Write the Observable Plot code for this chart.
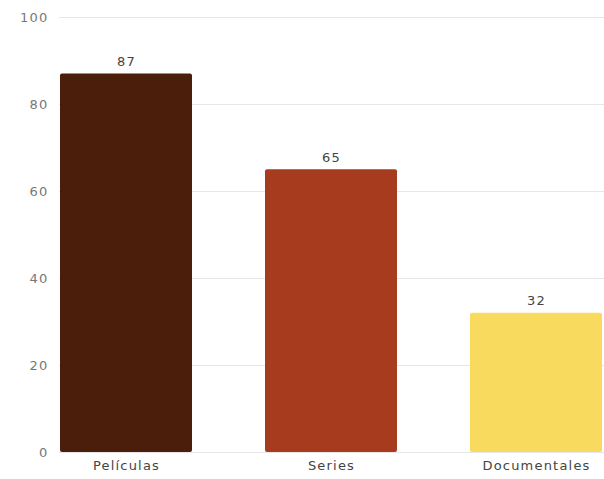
<!DOCTYPE html>
<html>
<head>
<meta charset="utf-8">
<script src="https://cdn.jsdelivr.net/npm/d3@7"></script>
<script src="https://cdn.jsdelivr.net/npm/@observablehq/plot@0.6"></script>
<style>
  html, body { margin: 0; padding: 0; background: #fff; }
  #chart svg { display: block; }
  #chart svg text { letter-spacing: 1.2px; }
</style>
</head>
<body>
<div id="chart"></div>
<script>
const categories = ["Películas", "Series", "Documentales"];
const values = [87, 65, 32];
const colors = ["#4b1d0b", "#a73b1e", "#f8db5e"];
const yTicks = [0, 20, 40, 60, 80, 100];

const data = categories.map((c, i) => ({category: c, value: values[i]}));

const chart = Plot.plot({
  width: 604,
  height: 479,
  marginLeft: 59,
  marginRight: 0,
  marginTop: 17,
  marginBottom: 27,
  style: {fontFamily: "'DejaVu Sans', sans-serif", fontSize: "13px", color: "#555", background: "#fff"},
  x: {domain: categories, paddingInner: 0.354, paddingOuter: 0, label: null},
  y: {domain: [0, 100], ticks: yTicks, label: null},
  color: {domain: categories, range: colors},
  marks: [
    Plot.gridY(yTicks, {stroke: "#e6e6e6", strokeOpacity: 1}),
    Plot.barY(data, {x: "category", y: "value", fill: "category", rx: 2}),
    Plot.text(data, {x: "category", y: "value", text: d => String(d.value), dy: -12, fill: "#444", fontSize: 13}),
    Plot.axisY(yTicks, {tickSize: 0, tickPadding: 11, fill: "#777", fontSize: 13}),
    Plot.axisX({tickSize: 0, tickPadding: 8, fill: "#444", fontSize: 13})
  ]
});
document.getElementById("chart").append(chart);
</script>
</body>
</html>
